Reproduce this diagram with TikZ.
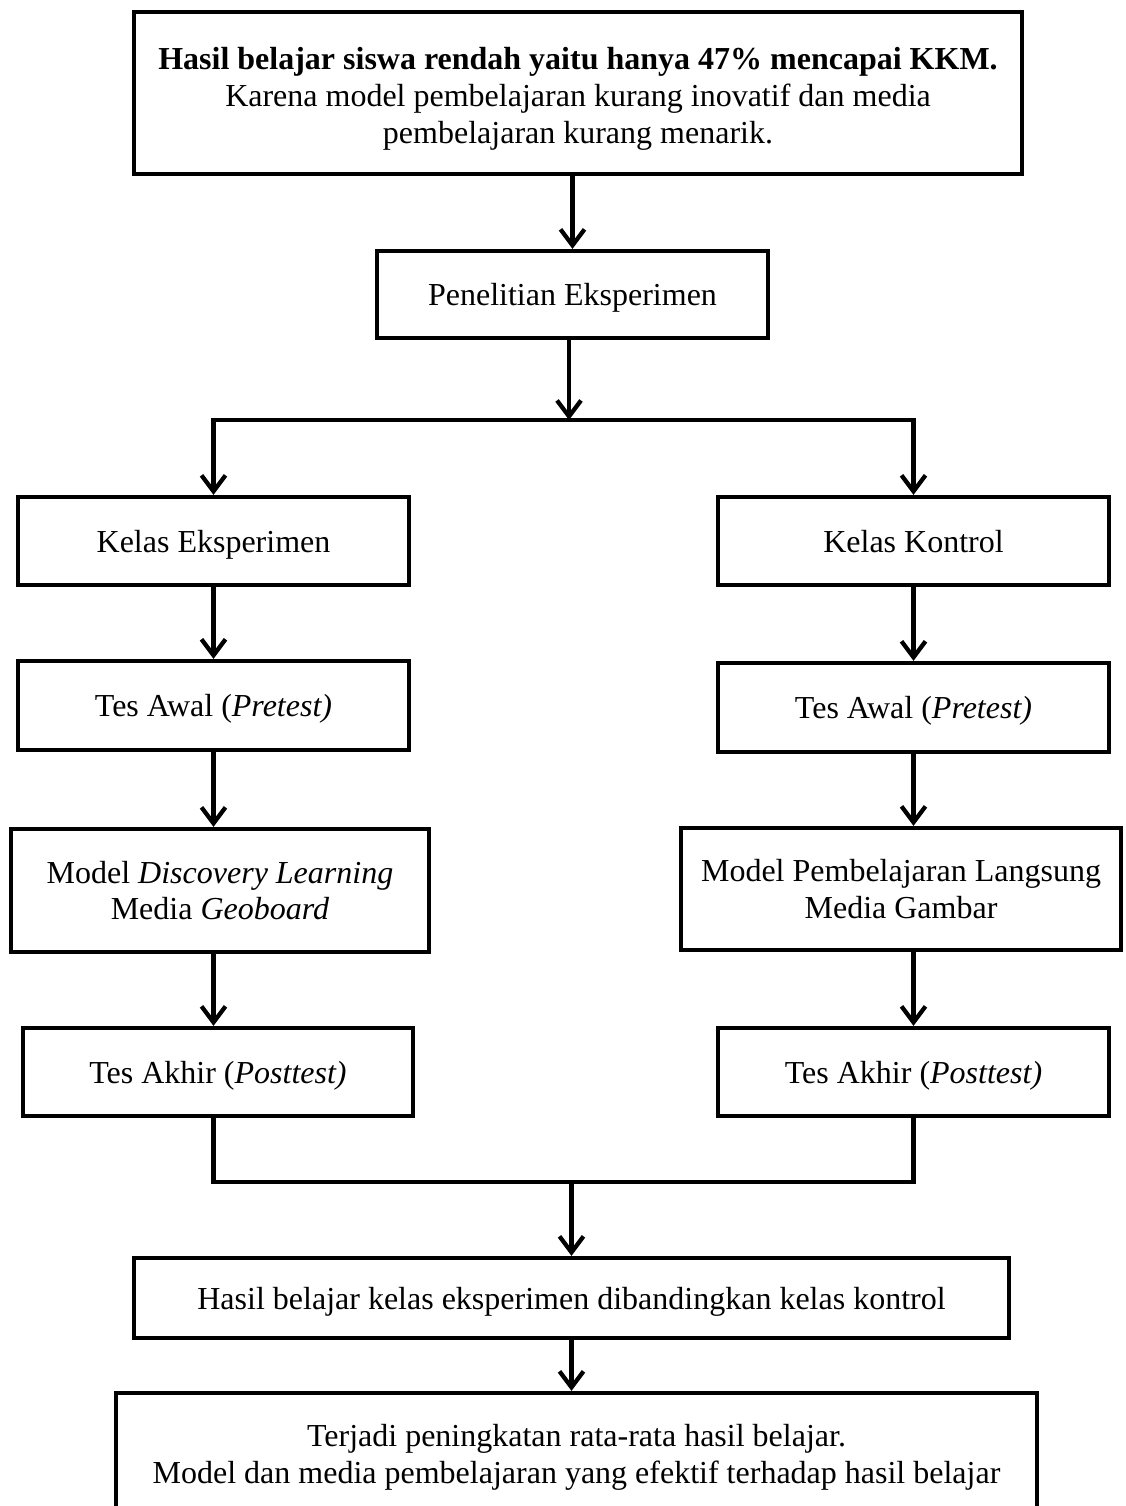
\documentclass[tikz,border=0pt]{standalone}
\usepackage{fontspec}
\setmainfont{Liberation Serif}
\usepackage{tikz}
\usetikzlibrary{arrows.meta}

\tikzset{
	kotak/.style={draw, black, line width=1.6pt, align=center, font=\fontsize{12}{13.8}\selectfont},
	baris/.style={kotak, text height=8.6pt, text depth=0pt},
	garis/.style={black, line width=1.6pt},
	panah/.style={garis, -{Straight Barb[length=6pt,width=9pt]}}
}

\begin{document}
\begin{tikzpicture}[x=0.375pt, y=-0.375pt]
			\useasboundingbox (0, 0) rectangle (1125, 1506);
			\clip (0, 0) rectangle (1125, 1506);
			\node [kotak, minimum width=333pt, minimum height=60.75pt] (masalah) at (578, 93) {\rule{0pt}{12.8pt}\textbf{Hasil belajar siswa rendah yaitu hanya 47\% mencapai KKM.}\\Karena model pembelajaran kurang inovatif dan media\\pembelajaran kurang menarik.};
			\node [baris, minimum width=146.6pt, minimum height=32.6pt] (penelitian) at (572.5, 294.5) {Penelitian Eksperimen};
			\node [baris, minimum width=146.6pt, minimum height=33pt] (kelasEks) at (213.5, 541) {Kelas Eksperimen};
			\node [baris, minimum width=146.6pt, minimum height=33pt] (kelasKon) at (913.5, 541) {Kelas Kontrol};
			\node [baris, minimum width=146.6pt, minimum height=33.4pt] (pretestEks) at (213.5, 705.5) {Tes Awal (\textit{Pretest)}};
			\node [baris, minimum width=146.6pt, minimum height=33.4pt] (pretestKon) at (913.5, 707.5) {Tes Awal (\textit{Pretest)}};
			\node [kotak, minimum width=156.75pt, minimum height=46.1pt] (modelEks) at (220, 890.5) {Model \textit{Discovery Learning}\\Media \textit{Geoboard}};
			\node [kotak, minimum width=165pt, minimum height=45.75pt] (modelKon) at (901, 889) {Model Pembelajaran Langsung\\Media Gambar};
			\node [baris, minimum width=146.25pt, minimum height=33pt] (posttestEks) at (218, 1072) {Tes Akhir (\textit{Posttest)}};
			\node [baris, minimum width=146.6pt, minimum height=33pt] (posttestKon) at (913.5, 1072) {Tes Akhir (\textit{Posttest)}};
			\node [baris, minimum width=328.1pt, minimum height=30pt] (banding) at (571.5, 1298) {Hasil belajar kelas eksperimen dibandingkan kelas kontrol};
			\node [kotak, minimum width=345.4pt, minimum height=48pt] (hasil) at (576.5, 1457) {Terjadi peningkatan rata-rata hasil belajar.\\Model dan media pembelajaran yang efektif terhadap hasil belajar};
			\coordinate (cabang) at (569, 420);
			\coordinate (gabung) at (571.5, 1182);
			\draw [panah] (masalah.south -| penelitian) -- (penelitian);
			\draw [panah] (penelitian.south -| cabang) -- (cabang);
			\draw [panah] (cabang) -| (kelasEks);
			\draw [panah] (cabang) -| (kelasKon);
			\draw [panah] (kelasEks) -- (kelasEks |- pretestEks.north);
			\draw [panah] (kelasKon) -- (kelasKon |- pretestKon.north);
			\draw [panah] (pretestEks) -- (pretestEks |- modelEks.north);
			\draw [panah] (pretestKon) -- (pretestKon |- modelKon.north);
			\draw [panah] (modelEks.south -| pretestEks) -- (pretestEks |- posttestEks.north);
			\draw [panah] (modelKon.south -| pretestKon) -- (pretestKon |- posttestKon.north);
			\draw [garis] (posttestEks.south -| pretestEks) |- (gabung) -| (posttestKon.south);
			\draw [panah] (gabung) -- (banding);
			\draw [panah] (banding) -- (banding |- hasil.north);
		\end{tikzpicture}
\end{document}
